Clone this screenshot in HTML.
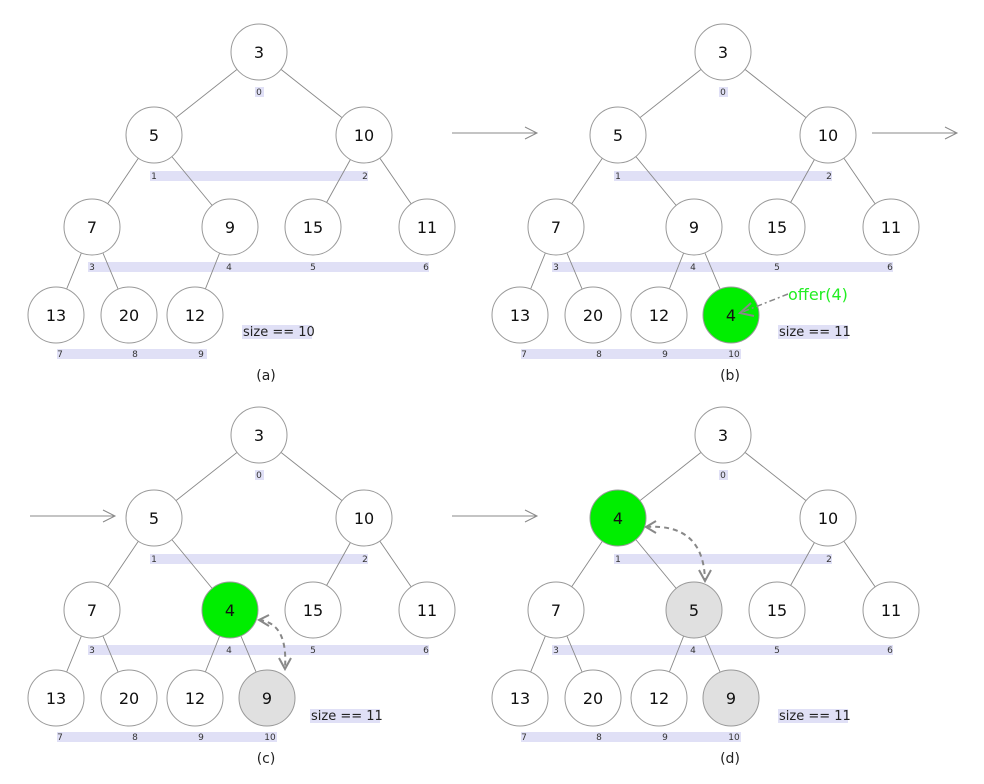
<!DOCTYPE html>
<html><head><meta charset="utf-8"><style>
html,body{margin:0;padding:0;background:#fff;}
svg{display:block;font-family:"DejaVu Sans","Liberation Sans",sans-serif;}
.e line{stroke:#888;stroke-width:0.9;}
circle{stroke:#999;stroke-width:1;fill:#fff;}
.g{fill:#00ee00;}
.y{fill:#e0e0e0;}
.n{font-size:16px;text-anchor:middle;fill:#111;}
.i{font-size:9px;text-anchor:middle;fill:#333;}
.bar{fill:#e0e0f6;}
.s{font-size:13px;fill:#222;}
.cap{font-size:14px;text-anchor:middle;fill:#222;}
.arr{stroke:#888;stroke-width:1;fill:none;}
.dash{stroke:#888;stroke-width:2;fill:none;stroke-dasharray:5,4;}
.hd{stroke:#888;stroke-width:2;fill:none;}
</style></head><body>
<svg width="984" height="784" viewBox="0 0 984 784">
<!-- arrows between panels -->
<g class="arr">
<line x1="452" y1="133" x2="537" y2="133"/><polyline points="525,127 537,133 525,139"/>
<line x1="872" y1="133" x2="957" y2="133"/><polyline points="945,127 957,133 945,139"/>
<line x1="30" y1="516" x2="115" y2="516"/><polyline points="103,510 115,516 103,522"/>
<line x1="452" y1="516" x2="537" y2="516"/><polyline points="525,510 537,516 525,522"/>
</g>

<!-- Panel a -->
<g>
<rect class="bar" x="255" y="87" width="9" height="10"/>
<rect class="bar" x="150" y="171" width="218" height="10"/>
<rect class="bar" x="88" y="262" width="341" height="10"/>
<rect class="bar" x="57" y="349" width="150" height="10"/>
<g class="e">
<line x1="259" y1="52" x2="154" y2="135"/><line x1="259" y1="52" x2="364" y2="135"/>
<line x1="154" y1="135" x2="92" y2="227"/><line x1="154" y1="135" x2="230" y2="227"/>
<line x1="364" y1="135" x2="313" y2="227"/><line x1="364" y1="135" x2="427" y2="227"/>
<line x1="92" y1="227" x2="56" y2="315"/><line x1="92" y1="227" x2="129" y2="315"/>
<line x1="230" y1="227" x2="195" y2="315"/>
</g>
<circle cx="259" cy="52" r="28"/><circle cx="154" cy="135" r="28"/><circle cx="364" cy="135" r="28"/>
<circle cx="92" cy="227" r="28"/><circle cx="230" cy="227" r="28"/><circle cx="313" cy="227" r="28"/><circle cx="427" cy="227" r="28"/>
<circle cx="56" cy="315" r="28"/><circle cx="129" cy="315" r="28"/><circle cx="195" cy="315" r="28"/>
<text class="n" x="259" y="58">3</text><text class="n" x="154" y="141">5</text><text class="n" x="364" y="141">10</text>
<text class="n" x="92" y="233">7</text><text class="n" x="230" y="233">9</text><text class="n" x="313" y="233">15</text><text class="n" x="427" y="233">11</text>
<text class="n" x="56" y="321">13</text><text class="n" x="129" y="321">20</text><text class="n" x="195" y="321">12</text>
<text class="i" x="259" y="95">0</text><text class="i" x="154" y="179">1</text><text class="i" x="365" y="179">2</text>
<text class="i" x="92" y="270">3</text><text class="i" x="229" y="270">4</text><text class="i" x="313" y="270">5</text><text class="i" x="426" y="270">6</text>
<text class="i" x="60" y="357">7</text><text class="i" x="135" y="357">8</text><text class="i" x="201" y="357">9</text>
<rect class="bar" x="242" y="325" width="70" height="14"/><text class="s" x="243" y="336">size == 10</text>
<text class="cap" x="266" y="380">(a)</text>
</g>

<!-- Panel b -->
<g transform="translate(464,0)">
<rect class="bar" x="255" y="87" width="9" height="10"/>
<rect class="bar" x="150" y="171" width="218" height="10"/>
<rect class="bar" x="88" y="262" width="341" height="10"/>
<rect class="bar" x="57" y="349" width="220" height="10"/>
<g class="e">
<line x1="259" y1="52" x2="154" y2="135"/><line x1="259" y1="52" x2="364" y2="135"/>
<line x1="154" y1="135" x2="92" y2="227"/><line x1="154" y1="135" x2="230" y2="227"/>
<line x1="364" y1="135" x2="313" y2="227"/><line x1="364" y1="135" x2="427" y2="227"/>
<line x1="92" y1="227" x2="56" y2="315"/><line x1="92" y1="227" x2="129" y2="315"/>
<line x1="230" y1="227" x2="195" y2="315"/><line x1="230" y1="227" x2="267" y2="315"/>
</g>
<circle cx="259" cy="52" r="28"/><circle cx="154" cy="135" r="28"/><circle cx="364" cy="135" r="28"/>
<circle cx="92" cy="227" r="28"/><circle cx="230" cy="227" r="28"/><circle cx="313" cy="227" r="28"/><circle cx="427" cy="227" r="28"/>
<circle cx="56" cy="315" r="28"/><circle cx="129" cy="315" r="28"/><circle cx="195" cy="315" r="28"/><circle class="g" cx="267" cy="315" r="28"/>
<text class="n" x="259" y="58">3</text><text class="n" x="154" y="141">5</text><text class="n" x="364" y="141">10</text>
<text class="n" x="92" y="233">7</text><text class="n" x="230" y="233">9</text><text class="n" x="313" y="233">15</text><text class="n" x="427" y="233">11</text>
<text class="n" x="56" y="321">13</text><text class="n" x="129" y="321">20</text><text class="n" x="195" y="321">12</text><text class="n" x="267" y="321">4</text>
<text class="i" x="259" y="95">0</text><text class="i" x="154" y="179">1</text><text class="i" x="365" y="179">2</text>
<text class="i" x="92" y="270">3</text><text class="i" x="229" y="270">4</text><text class="i" x="313" y="270">5</text><text class="i" x="426" y="270">6</text>
<text class="i" x="60" y="357">7</text><text class="i" x="135" y="357">8</text><text class="i" x="201" y="357">9</text><text class="i" x="270" y="357">10</text>
<rect class="bar" x="314" y="325" width="70" height="14"/><text class="s" x="315" y="336">size == 11</text>
<path d="M324,294 L276,313" stroke="#888" stroke-width="1.5" stroke-dasharray="6,3,2,3" fill="none"/>
<polyline points="287,303 276,313 290,316" class="hd"/>
<text x="324" y="300" style="font-size:16px;fill:#22ee22">offer(4)</text>
<text class="cap" x="266" y="380">(b)</text>
</g>

<!-- Panel c -->
<g transform="translate(0,383)">
<rect class="bar" x="255" y="87" width="9" height="10"/>
<rect class="bar" x="150" y="171" width="218" height="10"/>
<rect class="bar" x="88" y="262" width="341" height="10"/>
<rect class="bar" x="57" y="349" width="220" height="10"/>
<g class="e">
<line x1="259" y1="52" x2="154" y2="135"/><line x1="259" y1="52" x2="364" y2="135"/>
<line x1="154" y1="135" x2="92" y2="227"/><line x1="154" y1="135" x2="230" y2="227"/>
<line x1="364" y1="135" x2="313" y2="227"/><line x1="364" y1="135" x2="427" y2="227"/>
<line x1="92" y1="227" x2="56" y2="315"/><line x1="92" y1="227" x2="129" y2="315"/>
<line x1="230" y1="227" x2="195" y2="315"/><line x1="230" y1="227" x2="267" y2="315"/>
</g>
<circle cx="259" cy="52" r="28"/><circle cx="154" cy="135" r="28"/><circle cx="364" cy="135" r="28"/>
<circle cx="92" cy="227" r="28"/><circle class="g" cx="230" cy="227" r="28"/><circle cx="313" cy="227" r="28"/><circle cx="427" cy="227" r="28"/>
<circle cx="56" cy="315" r="28"/><circle cx="129" cy="315" r="28"/><circle cx="195" cy="315" r="28"/><circle class="y" cx="267" cy="315" r="28"/>
<text class="n" x="259" y="58">3</text><text class="n" x="154" y="141">5</text><text class="n" x="364" y="141">10</text>
<text class="n" x="92" y="233">7</text><text class="n" x="230" y="233">4</text><text class="n" x="313" y="233">15</text><text class="n" x="427" y="233">11</text>
<text class="n" x="56" y="321">13</text><text class="n" x="129" y="321">20</text><text class="n" x="195" y="321">12</text><text class="n" x="267" y="321">9</text>
<text class="i" x="259" y="95">0</text><text class="i" x="154" y="179">1</text><text class="i" x="365" y="179">2</text>
<text class="i" x="92" y="270">3</text><text class="i" x="229" y="270">4</text><text class="i" x="313" y="270">5</text><text class="i" x="426" y="270">6</text>
<text class="i" x="60" y="357">7</text><text class="i" x="135" y="357">8</text><text class="i" x="201" y="357">9</text><text class="i" x="270" y="357">10</text>
<rect class="bar" x="310" y="326" width="70" height="14"/><text class="s" x="311" y="337">size == 11</text>
<path class="dash" d="M259,237 Q288,240 285,285"/>
<polyline class="hd" points="269,232 259,237 269,243"/>
<polyline class="hd" points="279,275 285,286 291,275"/>
<text class="cap" x="266" y="380">(c)</text>
</g>

<!-- Panel d -->
<g transform="translate(464,383)">
<rect class="bar" x="255" y="87" width="9" height="10"/>
<rect class="bar" x="150" y="171" width="218" height="10"/>
<rect class="bar" x="88" y="262" width="341" height="10"/>
<rect class="bar" x="57" y="349" width="220" height="10"/>
<g class="e">
<line x1="259" y1="52" x2="154" y2="135"/><line x1="259" y1="52" x2="364" y2="135"/>
<line x1="154" y1="135" x2="92" y2="227"/><line x1="154" y1="135" x2="230" y2="227"/>
<line x1="364" y1="135" x2="313" y2="227"/><line x1="364" y1="135" x2="427" y2="227"/>
<line x1="92" y1="227" x2="56" y2="315"/><line x1="92" y1="227" x2="129" y2="315"/>
<line x1="230" y1="227" x2="195" y2="315"/><line x1="230" y1="227" x2="267" y2="315"/>
</g>
<circle cx="259" cy="52" r="28"/><circle class="g" cx="154" cy="135" r="28"/><circle cx="364" cy="135" r="28"/>
<circle cx="92" cy="227" r="28"/><circle class="y" cx="230" cy="227" r="28"/><circle cx="313" cy="227" r="28"/><circle cx="427" cy="227" r="28"/>
<circle cx="56" cy="315" r="28"/><circle cx="129" cy="315" r="28"/><circle cx="195" cy="315" r="28"/><circle class="y" cx="267" cy="315" r="28"/>
<text class="n" x="259" y="58">3</text><text class="n" x="154" y="141">4</text><text class="n" x="364" y="141">10</text>
<text class="n" x="92" y="233">7</text><text class="n" x="230" y="233">5</text><text class="n" x="313" y="233">15</text><text class="n" x="427" y="233">11</text>
<text class="n" x="56" y="321">13</text><text class="n" x="129" y="321">20</text><text class="n" x="195" y="321">12</text><text class="n" x="267" y="321">9</text>
<text class="i" x="259" y="95">0</text><text class="i" x="154" y="179">1</text><text class="i" x="365" y="179">2</text>
<text class="i" x="92" y="270">3</text><text class="i" x="229" y="270">4</text><text class="i" x="313" y="270">5</text><text class="i" x="426" y="270">6</text>
<text class="i" x="60" y="357">7</text><text class="i" x="135" y="357">8</text><text class="i" x="201" y="357">9</text><text class="i" x="270" y="357">10</text>
<rect class="bar" x="314" y="326" width="70" height="14"/><text class="s" x="315" y="337">size == 11</text>
<path class="dash" d="M182,144 Q240,140 241,198"/>
<polyline class="hd" points="192,138 182,144 192,150"/>
<polyline class="hd" points="235,187 241,198 247,187"/>
<text class="cap" x="266" y="380">(d)</text>
</g>
</svg>
</body></html>
